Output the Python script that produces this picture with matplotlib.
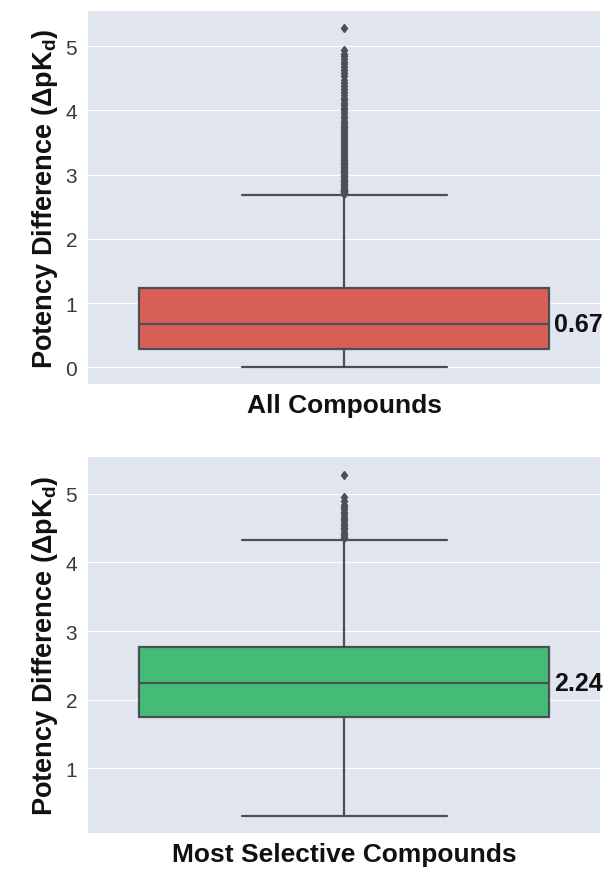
import matplotlib
matplotlib.use("Agg")
import matplotlib.pyplot as plt
import seaborn as sns

sns.set_style("darkgrid", {"axes.facecolor": "#E1E5EF", "grid.color": "white"})
plt.rcParams["font.family"] = ["Liberation Sans", "DejaVu Sans"]
plt.rcParams["mathtext.fontset"] = "custom"
plt.rcParams["mathtext.rm"] = "Liberation Sans"
plt.rcParams["mathtext.bf"] = "Liberation Sans:bold"

INK = "#111111"
LINE = "#4A4F57"

# summary statistics (delta pKd)
group_labels = ["All Compounds", "Most Selective Compounds"]
box_colors = ["#D85F55", "#44BC78"]
whisker_low = [0.0, 0.30]
q1 = [0.28, 1.74]
median = [0.67, 2.24]
q3 = [1.24, 2.76]
whisker_high = [2.68, 4.32]

outliers_all = [
    2.70, 2.71, 2.72, 2.73, 2.74, 2.75, 2.76, 2.77, 2.78, 2.80, 2.82, 2.84,
    2.86, 2.88, 2.90, 2.92, 2.94, 2.96, 2.98, 3.00, 3.02, 3.04, 3.06, 3.08,
    3.10, 3.12, 3.14, 3.16, 3.18, 3.20, 3.23, 3.26, 3.29, 3.32, 3.35, 3.38,
    3.41, 3.44, 3.47, 3.50, 3.53, 3.56, 3.59, 3.62, 3.65, 3.68, 3.71, 3.74,
    3.77, 3.80, 3.84, 3.88, 3.92, 3.96, 4.00, 4.04, 4.08, 4.12, 4.16, 4.20,
    4.24, 4.28, 4.33, 4.38, 4.43, 4.48, 4.53, 4.58, 4.63, 4.68, 4.72, 4.76,
    4.80, 4.84, 4.88, 4.94, 5.28,
]
outliers_selective = [
    4.35, 4.37, 4.40, 4.42, 4.45, 4.48, 4.50, 4.53, 4.56, 4.60, 4.63, 4.66,
    4.70, 4.74, 4.78, 4.81, 4.84, 4.89, 4.95, 5.28,
]
outlier_sets = [outliers_all, outliers_selective]

fig = plt.figure(figsize=(6.08, 8.70), dpi=100)
fig.patch.set_facecolor("white")
positions = [
    [0.145, 0.557, 0.842, 0.429],
    [0.145, 0.041, 0.842, 0.432],
]

for i, rect in enumerate(positions):
    ax = fig.add_axes(rect)
    stats = [dict(
        med=median[i], q1=q1[i], q3=q3[i],
        whislo=whisker_low[i], whishi=whisker_high[i],
        fliers=outlier_sets[i],
    )]
    ax.bxp(
        stats, positions=[0], widths=0.8, patch_artist=True,
        boxprops=dict(facecolor=box_colors[i], edgecolor=LINE, linewidth=1.6),
        medianprops=dict(color=LINE, linewidth=1.6),
        whiskerprops=dict(color=LINE, linewidth=1.6),
        capprops=dict(color=LINE, linewidth=1.6),
        capwidths=0.4,
        flierprops=dict(marker="d", markersize=4.5, markerfacecolor=LINE,
                        markeredgecolor=LINE),
    )
    ax.set_xlim(-0.5, 0.5)
    lo = min(whisker_low[i], min(outlier_sets[i]))
    hi = max(whisker_high[i], max(outlier_sets[i]))
    pad = (hi - lo) * 0.05
    ax.set_ylim(lo - pad, hi + pad)
    ax.set_xticks([])
    ax.tick_params(axis="y", labelsize=15, labelcolor="#3A3A3A", length=0, pad=8)
    ax.set_ylabel(r"Potency Difference (ΔpK$_\mathbf{d}$)",
                  fontsize=19.5, fontweight="bold", color=INK, labelpad=4)
    ax.set_xlabel(group_labels[i], fontsize=19, fontweight="bold",
                  color=INK, labelpad=6)
    ax.text(0.41, median[i], f"{median[i]:.2f}", ha="left", va="center",
            fontsize=18, fontweight="bold", color=INK)
    for s in ax.spines.values():
        s.set_visible(False)

fig.savefig("out.png", dpi=100, facecolor="white")
